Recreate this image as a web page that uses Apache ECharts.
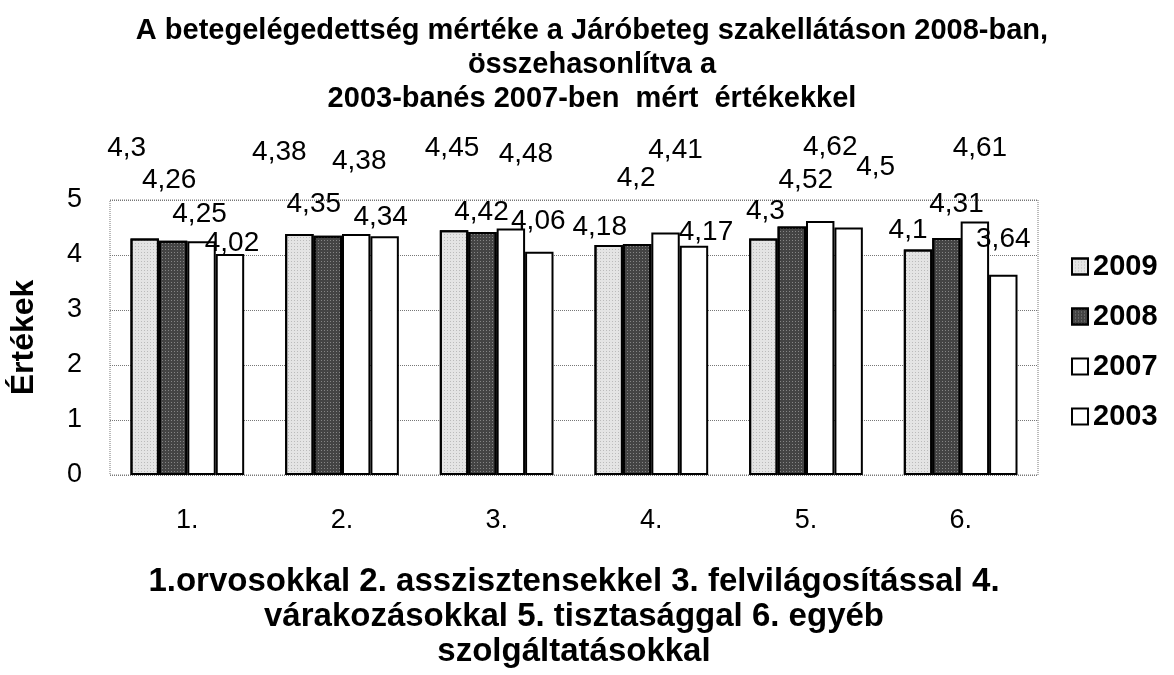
<!DOCTYPE html>
<html>
<head>
<meta charset="utf-8">
<title>Betegelégedettség</title>
<script src="https://cdn.jsdelivr.net/npm/echarts@6/dist/echarts.min.js"></script>
<style>
  html, body { margin: 0; padding: 0; background: #fff; }
  #main { width: 1174px; height: 675px; }
</style>
</head>
<body>
<div id="main"></div>
<script>
// adatok
var categories = ['1.', '2.', '3.', '4.', '5.', '6.'];
var years = ['2009', '2008', '2007', '2003'];
var v2009 = [4.3, 4.38, 4.45, 4.18, 4.3, 4.1];
var v2008 = [4.26, 4.35, 4.42, 4.2, 4.52, 4.31];
var v2007 = [4.25, 4.38, 4.48, 4.41, 4.62, 4.61];
var v2003 = [4.02, 4.34, 4.06, 4.17, 4.5, 3.64];
var yTicks = [0, 1, 2, 3, 4, 5];

// a címkék kézzel elhúzott helye az eredetin (eltolás az oszlop tetejétől)
var nudge2009 = [[-18, -90], [-20, -82], [-2, -82], [-9, -18], [2, -27], [-10, -19]];
var nudge2008 = [[-4, -60], [-14, -31], [-1, -20], [-1, -66], [14, -46], [10, -34]];
var nudge2007 = [[-2, -27], [3, -73], [15, -74], [10, -82], [10, -74], [5, -73]];
var nudge2003 = [[2, -11], [-4, -19], [-1, -30], [12, -13], [27, -60], [0, -36]];

var font = 'Liberation Sans, Arial, sans-serif';

function items(values, nudge) {
  return values.map(function (v, i) {
    return { value: v, label: { offset: nudge[i] } };
  });
}

// pöttyös kitöltés, mint a nyomtatott ábrán
function speckle(dotColor) {
  return { symbol: 'rect', symbolSize: 1, color: dotColor, dashArrayX: [1, 2], dashArrayY: [1, 2], rotation: 0 };
}

function barSeries(name, values, nudge, fill, decal) {
  var style = { color: fill, borderColor: '#000', borderWidth: 2 };
  if (decal) style.decal = decal;
  return {
    name: name,
    type: 'bar',
    barGap: '0%',
    barCategoryGap: '26.5%',
    itemStyle: style,
    label: {
      show: true,
      position: 'top',
      distance: 0,
      align: 'center',
      verticalAlign: 'middle',
      color: '#000',
      fontFamily: font,
      fontSize: 28,
      formatter: function (p) { return String(p.value).replace('.', ','); }
    },
    emphasis: { disabled: true },
    data: items(values, nudge)
  };
}

var chart = echarts.init(document.getElementById('main'), null, { renderer: 'canvas' });

var option = {
  animation: false,
  title: {
    text: 'A betegelégedettség mértéke a Járóbeteg szakellátáson 2008-ban,\nösszehasonlítva a\n2003-banés 2007-ben  mért  értékekkel',
    left: 587,
    top: 9,
    textAlign: 'center',
    textStyle: {
      fontFamily: font,
      fontWeight: 'bold',
      fontSize: 29,
      lineHeight: 34,
      color: '#000'
    }
  },
  legend: {
    orient: 'vertical',
    left: 1066,
    top: 247,
    itemWidth: 16,
    itemHeight: 16,
    itemGap: 21,
    icon: 'rect',
    data: years,
    textStyle: { fontFamily: font, fontWeight: 'bold', fontSize: 29, color: '#000' }
  },
  grid: {
    left: 108,
    right: 136,
    top: 200,
    bottom: 200,
    show: true,
    borderColor: '#777',
    borderWidth: 1,
    borderType: 'dotted'
  },
  xAxis: {
    type: 'category',
    data: categories,
    axisLine: { show: false },
    axisTick: { show: false },
    axisLabel: { margin: 32, fontFamily: font, fontSize: 27, color: '#000' },
    name: '1.orvosokkal 2. asszisztensekkel 3. felvilágosítással 4.\nvárakozásokkal 5. tisztasággal 6. egyéb\nszolgáltatásokkal',
    nameLocation: 'middle',
    nameGap: 89,
    nameTextStyle: {
      fontFamily: font, fontWeight: 'bold', fontSize: 33, lineHeight: 35,
      color: '#000', verticalAlign: 'top'
    }
  },
  yAxis: {
    type: 'value',
    min: yTicks[0],
    max: yTicks[yTicks.length - 1],
    interval: 1,
    axisLine: { show: false },
    axisTick: { show: false },
    axisLabel: { margin: 28, fontFamily: font, fontSize: 27, color: '#000' },
    splitLine: { lineStyle: { color: '#777', type: 'dotted', width: 1 } },
    name: 'Értékek',
    nameLocation: 'middle',
    nameGap: 70,
    nameRotate: 90,
    nameTextStyle: { fontFamily: font, fontWeight: 'bold', fontSize: 32, color: '#000' }
  },
  series: [
    barSeries(years[0], v2009, nudge2009, '#e4e4e4', speckle('rgba(0,0,0,0.18)')),
    barSeries(years[1], v2008, nudge2008, '#444444', speckle('rgba(255,255,255,0.35)')),
    barSeries(years[2], v2007, nudge2007, '#ffffff'),
    barSeries(years[3], v2003, nudge2003, '#ffffff')
  ]
};

chart.setOption(option);
</script>
</body>
</html>
